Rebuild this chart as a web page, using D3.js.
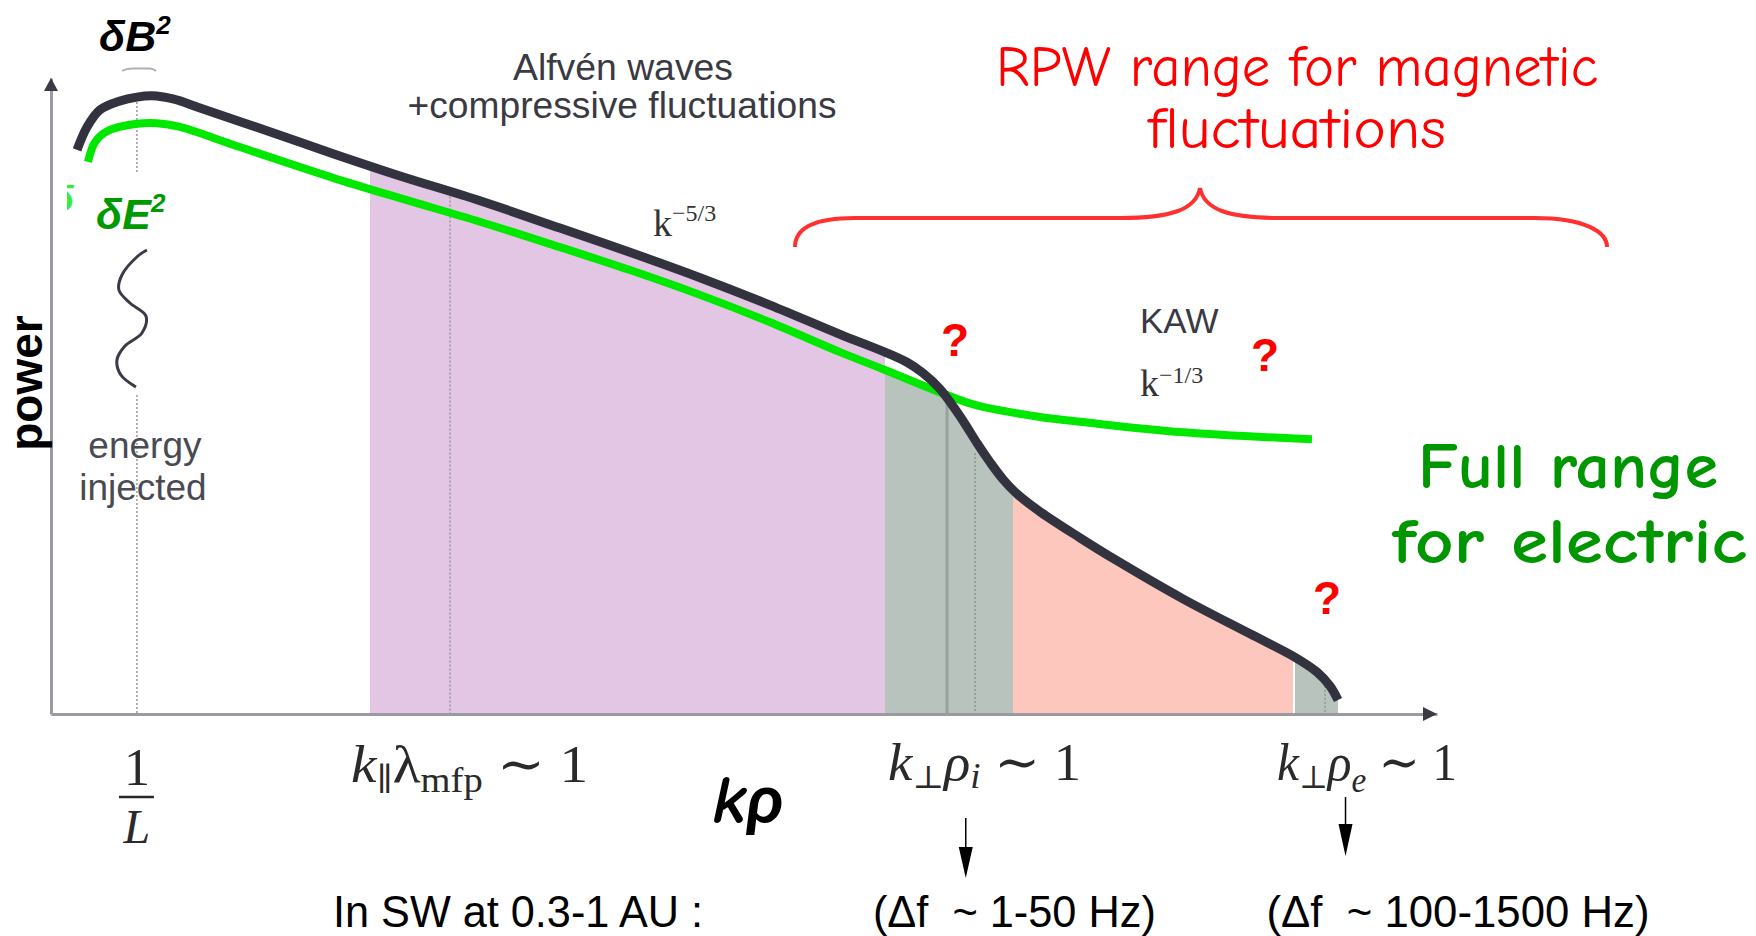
<!DOCTYPE html>
<html><head><meta charset="utf-8">
<script src="https://cdn.jsdelivr.net/npm/d3@7"></script>
<style>html,body{margin:0;padding:0;background:#fff;}svg{display:block;}</style>
</head><body>
<svg id="chart" width="1756" height="936"></svg>
<script>
// ---------- data (schematic units: x = position along kρ axis 0..100, y = power 0..100) ----------
const bCurveX = [1.88,2.60,3.54,4.98,6.20,7.29,8.80,10.75,15.58,20.35,25.18,30.95,36.72,41.77,46.83,51.88,56.93,60.17,61.76,62.91,64.14,65.08,65.95,66.81,67.75,68.69,69.70,71.36,74.24,76.91,81.67,86.51,89.61,91.34,92.28,92.86];
const bCurveY = [88.7,92.3,95.0,96.4,97.0,97.2,96.7,95.3,91.7,88.1,84.6,80.7,76.4,72.6,68.6,64.3,59.7,56.9,55.3,53.6,51.1,48.4,45.6,42.6,39.6,36.9,34.6,31.8,27.7,24.1,18.1,12.6,9.1,6.6,4.4,2.2];
const eCurveX = [2.67,3.17,4.11,6.20,7.65,9.31,13.13,20.35,25.18,30.95,36.72,41.77,46.83,51.88,56.93,60.17,64.14,66.67,71.36,74.46,81.67,90.98];
const eCurveY = [86.8,89.9,91.7,92.8,92.9,92.3,89.5,84.3,81.1,77.4,73.4,69.8,65.9,61.6,56.9,54.1,50.6,48.6,46.7,45.9,44.3,43.2];
const bandNames = ["inertial","ion transition","kinetic","electron"];
const bandStart = [23.02,60.17,69.41,89.75];
const bandEnd   = [60.17,69.41,89.61,92.93];
const refLineX = [6.20,28.79,64.65,66.67,91.92];
const scaleLabelX = [6.20,21.65,60.39,88.46];
const freqArrowX = [66.0,93.4];
const freqLabels = ["In SW at 0.3-1 AU :","(Δf  ~ 1-50 Hz)","(Δf  ~ 100-1500 Hz)"];
const freqLabelX = [20.35,59.3,87.7];

// ---------- scales ----------
const W = 1756, H = 936;
const x = d3.scaleLinear().domain([0,100]).range([51,1437]);
const y = d3.scaleLinear().domain([0,100]).range([714,78]);
const svg = d3.select("#chart");
const defs = svg.append("defs");

const bPts = bCurveX.map((v,i)=>[v,bCurveY[i]]);
const ePts = eCurveX.map((v,i)=>[v,eCurveY[i]]);
const cv = d3.curveCatmullRom.alpha(0.5);
const line = d3.line().x(d=>x(d[0])).y(d=>y(d[1])).curve(cv);
const area = d3.area().x(d=>x(d[0])).y0(y(0)).y1(d=>y(d[1])).curve(cv);
function interpB(v){
  for(let i=0;i<bCurveX.length-1;i++){
    if(v>=bCurveX[i] && v<=bCurveX[i+1]){
      const t=(v-bCurveX[i])/(bCurveX[i+1]-bCurveX[i]);
      return bCurveY[i]+t*(bCurveY[i+1]-bCurveY[i]);
    }
  }
  return bCurveY[bCurveY.length-1];
}

// clip paths
defs.append("clipPath").attr("id","underE").append("path").attr("d",area(ePts));
const bandColors = ["#e2c6e3","#b9c3bd","#fec7bd","#b9c3bd"];
bandNames.forEach((n,i)=>{
  defs.append("clipPath").attr("id","band"+i).append("rect")
    .attr("x",x(bandStart[i])).attr("width",x(bandEnd[i])-x(bandStart[i]))
    .attr("y",0).attr("height",y(0));
});

// bands
const gb = svg.append("g");
bandNames.forEach((n,i)=>{
  let g = gb.append("g").attr("clip-path","url(#band"+i+")");
  if(i===1) g = g.append("g").attr("clip-path","url(#underE)");
  g.append("path").attr("d",area(bPts)).attr("fill",bandColors[i]);
});

// reference lines
const gr = svg.append("g");
refLineX.forEach((v,i)=>{
  const top = y(interpB(v))+5;
  if(i===0){
    gr.append("line").attr("x1",x(v)).attr("x2",x(v)).attr("y1",top).attr("y2",172)
      .attr("stroke","#8a8a90").attr("stroke-width",1.3).attr("stroke-dasharray","2,2");
    gr.append("line").attr("x1",x(v)).attr("x2",x(v)).attr("y1",395).attr("y2",y(0))
      .attr("stroke","#8a8a90").attr("stroke-width",1.3).attr("stroke-dasharray","2,2");
  } else if(i===2){
    gr.append("line").attr("x1",x(v)).attr("x2",x(v)).attr("y1",top).attr("y2",y(0))
      .attr("stroke","#97a39c").attr("stroke-width",3);
  } else {
    gr.append("line").attr("x1",x(v)).attr("x2",x(v)).attr("y1",top+(i===3?8:0)).attr("y2",y(0))
      .attr("stroke","#8a8a90").attr("stroke-width",1.3).attr("stroke-dasharray","2,2");
  }
});

// axes
const ax = svg.append("g").attr("transform",`translate(0,${y(0)})`)
  .call(d3.axisBottom(x).tickValues([]).tickSizeOuter(0));
ax.select(".domain").attr("stroke","#9a9aa2").attr("stroke-width",3);
const ay = svg.append("g").attr("transform",`translate(${x(0)},0)`)
  .call(d3.axisLeft(y).tickValues([]).tickSizeOuter(0));
ay.select(".domain").attr("stroke","#9a9aa2").attr("stroke-width",3);
svg.append("path").attr("d",`M${x(100)},${y(0)} l-14,-7 l0,14 z`).attr("fill","#3a3b46");
svg.append("path").attr("d",`M${x(0)},${y(100)} l-7,13 l14,0 z`).attr("fill","#3a3b46");

// curves
svg.append("path").attr("d",line(ePts)).attr("fill","none").attr("stroke","#00e800").attr("stroke-width",8);
svg.append("path").attr("d",line(bPts)).attr("fill","none").attr("stroke","#32333f").attr("stroke-width",9).attr("stroke-linecap","butt");

// ---------- annotations ----------
const sans = "'Liberation Sans', Arial, sans-serif";
const serif = "'Liberation Serif', 'DejaVu Serif', serif";
const comic = "'Comic Sans MS', 'Comic Neue', Lato, sans-serif";

// δB² / δE² labels
const tB = svg.append("text").attr("x",99).attr("y",51).attr("font-family",sans)
  .attr("font-weight","bold").attr("font-style","italic").attr("font-size",43).attr("fill","#000");
tB.append("tspan").text("δB");
tB.append("tspan").attr("font-size",26).attr("dy",-17).text("2");
svg.append("path").attr("d","M122,71 Q127,68 136,68.5 L150,68.5 Q154,69 156,71")
  .attr("fill","none").attr("stroke","#b0b0b6").attr("stroke-width",2);
const tE = svg.append("text").attr("x",96).attr("y",229).attr("font-family",sans)
  .attr("font-weight","bold").attr("font-style","italic").attr("font-size",43).attr("fill","#009a00");
tE.append("tspan").text("δE");
tE.append("tspan").attr("font-size",26).attr("dy",-17).text("2");
defs.append("clipPath").attr("id","deltaClip").append("rect").attr("x",67).attr("y",180).attr("width",12).attr("height",35);
svg.append("text").attr("x",52).attr("y",211).attr("font-family",sans).attr("font-weight","bold")
  .attr("font-style","italic").attr("font-size",36).attr("fill","#33ee33").attr("clip-path","url(#deltaClip)").text("δ");

// squiggle (energy injection)
const sq = [[10,0],[1,6],[-15,25],[-18,40],[-7,53],[9,66],[5,83],[-12,96],[-20,110],[-16,125],[-1,137]];
svg.append("path").attr("d",d3.line().curve(d3.curveCatmullRom)(sq.map(p=>[x(refLineX[0])+p[0],250+p[1]])))
  .attr("fill","none").attr("stroke","#3a3b46").attr("stroke-width",3);
svg.append("text").attr("x",x(refLineX[0])+8).attr("y",458).attr("text-anchor","middle")
  .attr("font-family",sans).attr("font-size",37).attr("fill","#4a4a52").text("energy");
svg.append("text").attr("x",x(refLineX[0])+6).attr("y",500).attr("text-anchor","middle")
  .attr("font-family",sans).attr("font-size",37).attr("fill","#4a4a52").text("injected");

// power label
svg.append("text").attr("transform","translate(42,383) rotate(-90)").attr("text-anchor","middle")
  .attr("font-family",sans).attr("font-weight","bold").attr("font-size",46).attr("fill","#000").text("power");

// Alfvén waves
svg.append("text").attr("x",623).attr("y",80).attr("text-anchor","middle").attr("font-family",sans)
  .attr("font-size",37).attr("fill","#3a3a44").attr("textLength",220).attr("lengthAdjust","spacingAndGlyphs").text("Alfvén waves");
svg.append("text").attr("x",622).attr("y",118).attr("text-anchor","middle").attr("font-family",sans)
  .attr("font-size",37).attr("fill","#3a3a44").attr("textLength",429).attr("lengthAdjust","spacingAndGlyphs")
  .text("+compressive fluctuations");

// k^-5/3
const k53 = svg.append("text").attr("x",653).attr("y",236).attr("font-family",serif).attr("font-size",38).attr("fill","#333");
k53.append("tspan").text("k");
k53.append("tspan").attr("font-size",24).attr("dy",-15).text("−5/3");

// KAW
svg.append("text").attr("x",1140).attr("y",333).attr("font-family",sans).attr("font-size",35).attr("fill","#3a3a44").text("KAW");
const k13 = svg.append("text").attr("x",1140).attr("y",396).attr("font-family",serif).attr("font-size",38).attr("fill","#333");
k13.append("tspan").text("k");
k13.append("tspan").attr("font-size",24).attr("dy",-13).text("−1/3");

// red question marks
[[955,356],[1265,371],[1327,614]].forEach(p=>{
  svg.append("text").attr("x",p[0]).attr("y",p[1]).attr("text-anchor","middle").attr("font-family",sans)
    .attr("font-weight","bold").attr("font-size",46).attr("fill","#ff0000").text("?");
});

// RPW brace + text
svg.append("path").attr("d","M795,247 C795,228 815,218 855,218 L1120,218 C1170,218 1196,210 1200,188 C1204,210 1230,218 1280,218 L1535,218 C1585,218 1607,232 1607,247")
  .attr("fill","none").attr("stroke","#ff3030").attr("stroke-width",4);
svg.append("text").attr("x",996).attr("y",86).attr("font-family",comic).attr("font-size",58).attr("fill","#ff0000")
  .attr("textLength",602).attr("lengthAdjust","spacingAndGlyphs").text("RPW range for magnetic");
svg.append("text").attr("x",1148).attr("y",148).attr("font-family",comic).attr("font-size",58).attr("fill","#ff0000")
  .attr("textLength",298).attr("lengthAdjust","spacingAndGlyphs").text("fluctuations");

// Full range for electric
svg.append("text").attr("x",1418).attr("y",488).attr("font-family",comic).attr("font-weight","bold").attr("font-size",64).attr("fill","#009600")
  .attr("textLength",300).attr("lengthAdjust","spacingAndGlyphs").text("Full range");
svg.append("text").attr("x",1392).attr("y",563).attr("font-family",comic).attr("font-weight","bold").attr("font-size",64).attr("fill","#009600")
  .attr("textLength",355).attr("lengthAdjust","spacingAndGlyphs").text("for electric");

// scale labels (LaTeX-like)
const lc = "#2a2a2a";
svg.append("text").attr("x",x(scaleLabelX[0])).attr("y",785).attr("text-anchor","middle").attr("font-family",serif).attr("font-size",52).attr("fill",lc).text("1");
svg.append("line").attr("x1",x(scaleLabelX[0])-18).attr("x2",x(scaleLabelX[0])+17).attr("y1",797).attr("y2",797).attr("stroke",lc).attr("stroke-width",2.4);
svg.append("text").attr("x",x(scaleLabelX[0])).attr("y",843).attr("text-anchor","middle").attr("font-family",serif).attr("font-style","italic").attr("font-size",48).attr("fill",lc).text("L");

function texLabel(xp, yp, parts, len){
  const t = svg.append("text").attr("x",xp).attr("y",yp).attr("font-family",serif).attr("font-size",52).attr("fill",lc)
    .attr("textLength",len).attr("lengthAdjust","spacingAndGlyphs");
  parts.forEach(p=>{
    const s = t.append("tspan").text(p[0]);
    if(p[1]) s.attr("font-style","italic");
    if(p[2]) s.attr("font-size",p[2]);
    if(p[3]) s.attr("dy",p[3]);
  });
}
texLabel(x(scaleLabelX[1]),782,[["k",1],["∥",0,32,8],["λ",0,52,-8],["mfp",0,35,10],[" ∼ 1",0,52,-10]],237);
texLabel(x(scaleLabelX[2]),780,[["k",1],["⊥",0,32,8],["ρ",1,52,-8],["i",1,35,8],[" ∼ 1",0,52,-8]],193);
texLabel(x(scaleLabelX[3]),780,[["k",1],["⊥",0,32,8],["ρ",1,52,-8],["e",1,35,12],[" ∼ 1",0,52,-12]],180);

// k rho axis title
svg.append("text").attr("x",712).attr("y",823).attr("font-family",comic).attr("font-weight","bold").attr("font-style","italic")
  .attr("font-size",68).attr("fill","#000").attr("textLength",72).attr("lengthAdjust","spacingAndGlyphs").text("kρ");

// frequency arrows
[[818,878,847],[797,856,824]].forEach((a,i)=>{
  const xp = x(freqArrowX[i]);
  svg.append("line").attr("x1",xp).attr("x2",xp).attr("y1",a[0]).attr("y2",a[2]).attr("stroke","#000").attr("stroke-width",1.5);
  svg.append("path").attr("d",`M${xp},${a[1]} L${xp-7},${a[2]} L${xp+7},${a[2]} Z`).attr("fill","#000");
});
const fl = [370,283,383];
freqLabels.forEach((s,i)=>{
  svg.append("text").attr("x",x(freqLabelX[i])).attr("y",927).attr("font-family",sans).attr("font-size",45).attr("fill","#000")
    .attr("textLength",fl[i]).attr("lengthAdjust","spacingAndGlyphs").attr("xml:space","preserve").text(s);
});
</script>
</body></html>
